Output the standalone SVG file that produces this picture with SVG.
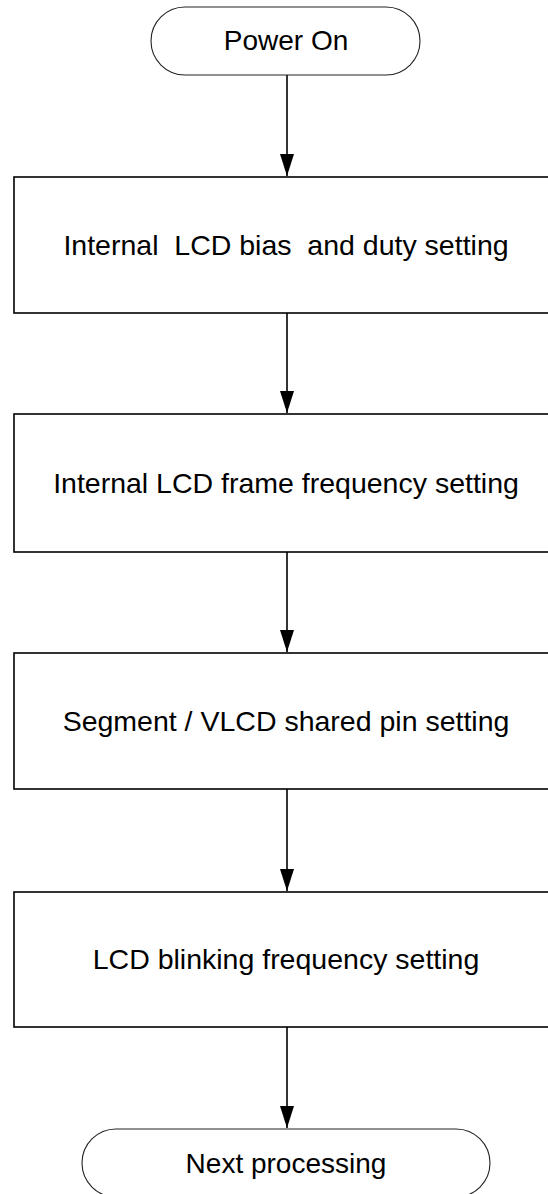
<svg xmlns="http://www.w3.org/2000/svg" width="548" height="1194" viewBox="0 0 548 1194">
<defs>
<style>
.box{fill:#fff;stroke:#000;stroke-width:1.6}
.term{fill:#fff;stroke:#222;stroke-width:1.1}
.lbl{font-family:"Liberation Sans",Arial,sans-serif;font-size:28.5px;fill:#000;text-anchor:middle}
.tl{font-size:28px}
.conn{stroke:#000;stroke-width:1.6;fill:none}
</style>
<marker id="ah" markerWidth="22" markerHeight="14" refX="22" refY="7" orient="auto" markerUnits="userSpaceOnUse" viewBox="0 0 22 14">
<path d="M0,0 L22,7 L0,14 Z" fill="#000"/>
</marker>
</defs>
<rect width="548" height="1194" fill="#fff"/>
<g id="connectors">
<line class="conn" x1="287" y1="75" x2="287" y2="176" marker-end="url(#ah)"/>
<line class="conn" x1="287" y1="313" x2="287" y2="413" marker-end="url(#ah)"/>
<line class="conn" x1="287" y1="552" x2="287" y2="652" marker-end="url(#ah)"/>
<line class="conn" x1="287" y1="789" x2="287" y2="891" marker-end="url(#ah)"/>
<line class="conn" x1="287" y1="1027" x2="287" y2="1128" marker-end="url(#ah)"/>
</g>
<g id="start">
<path class="term" d="M185,7 L386,7 A34,34 0 0 1 386,75 L185,75 A34,34 0 0 1 185,7 Z"/>
<text class="lbl tl" x="286" y="50">Power On</text>
</g>
<g id="step1">
<rect class="box" x="14" y="177" width="560" height="136"/>
<text class="lbl" x="286" y="255" xml:space="preserve">Internal  LCD bias  and duty setting</text>
</g>
<g id="step2">
<rect class="box" x="14" y="414" width="560" height="138"/>
<text class="lbl" x="286" y="493">Internal LCD frame frequency setting</text>
</g>
<g id="step3">
<rect class="box" x="14" y="653" width="560" height="136"/>
<text class="lbl" x="286" y="731">Segment / VLCD shared pin setting</text>
</g>
<g id="step4">
<rect class="box" x="14" y="892" width="560" height="135"/>
<text class="lbl" x="286" y="969">LCD blinking frequency setting</text>
</g>
<g id="end">
<path class="term" d="M116,1129 L456,1129 A34,34 0 0 1 456,1197 L116,1197 A34,34 0 0 1 116,1129 Z"/>
<text class="lbl tl" x="286" y="1173">Next processing</text>
</g>
</svg>
